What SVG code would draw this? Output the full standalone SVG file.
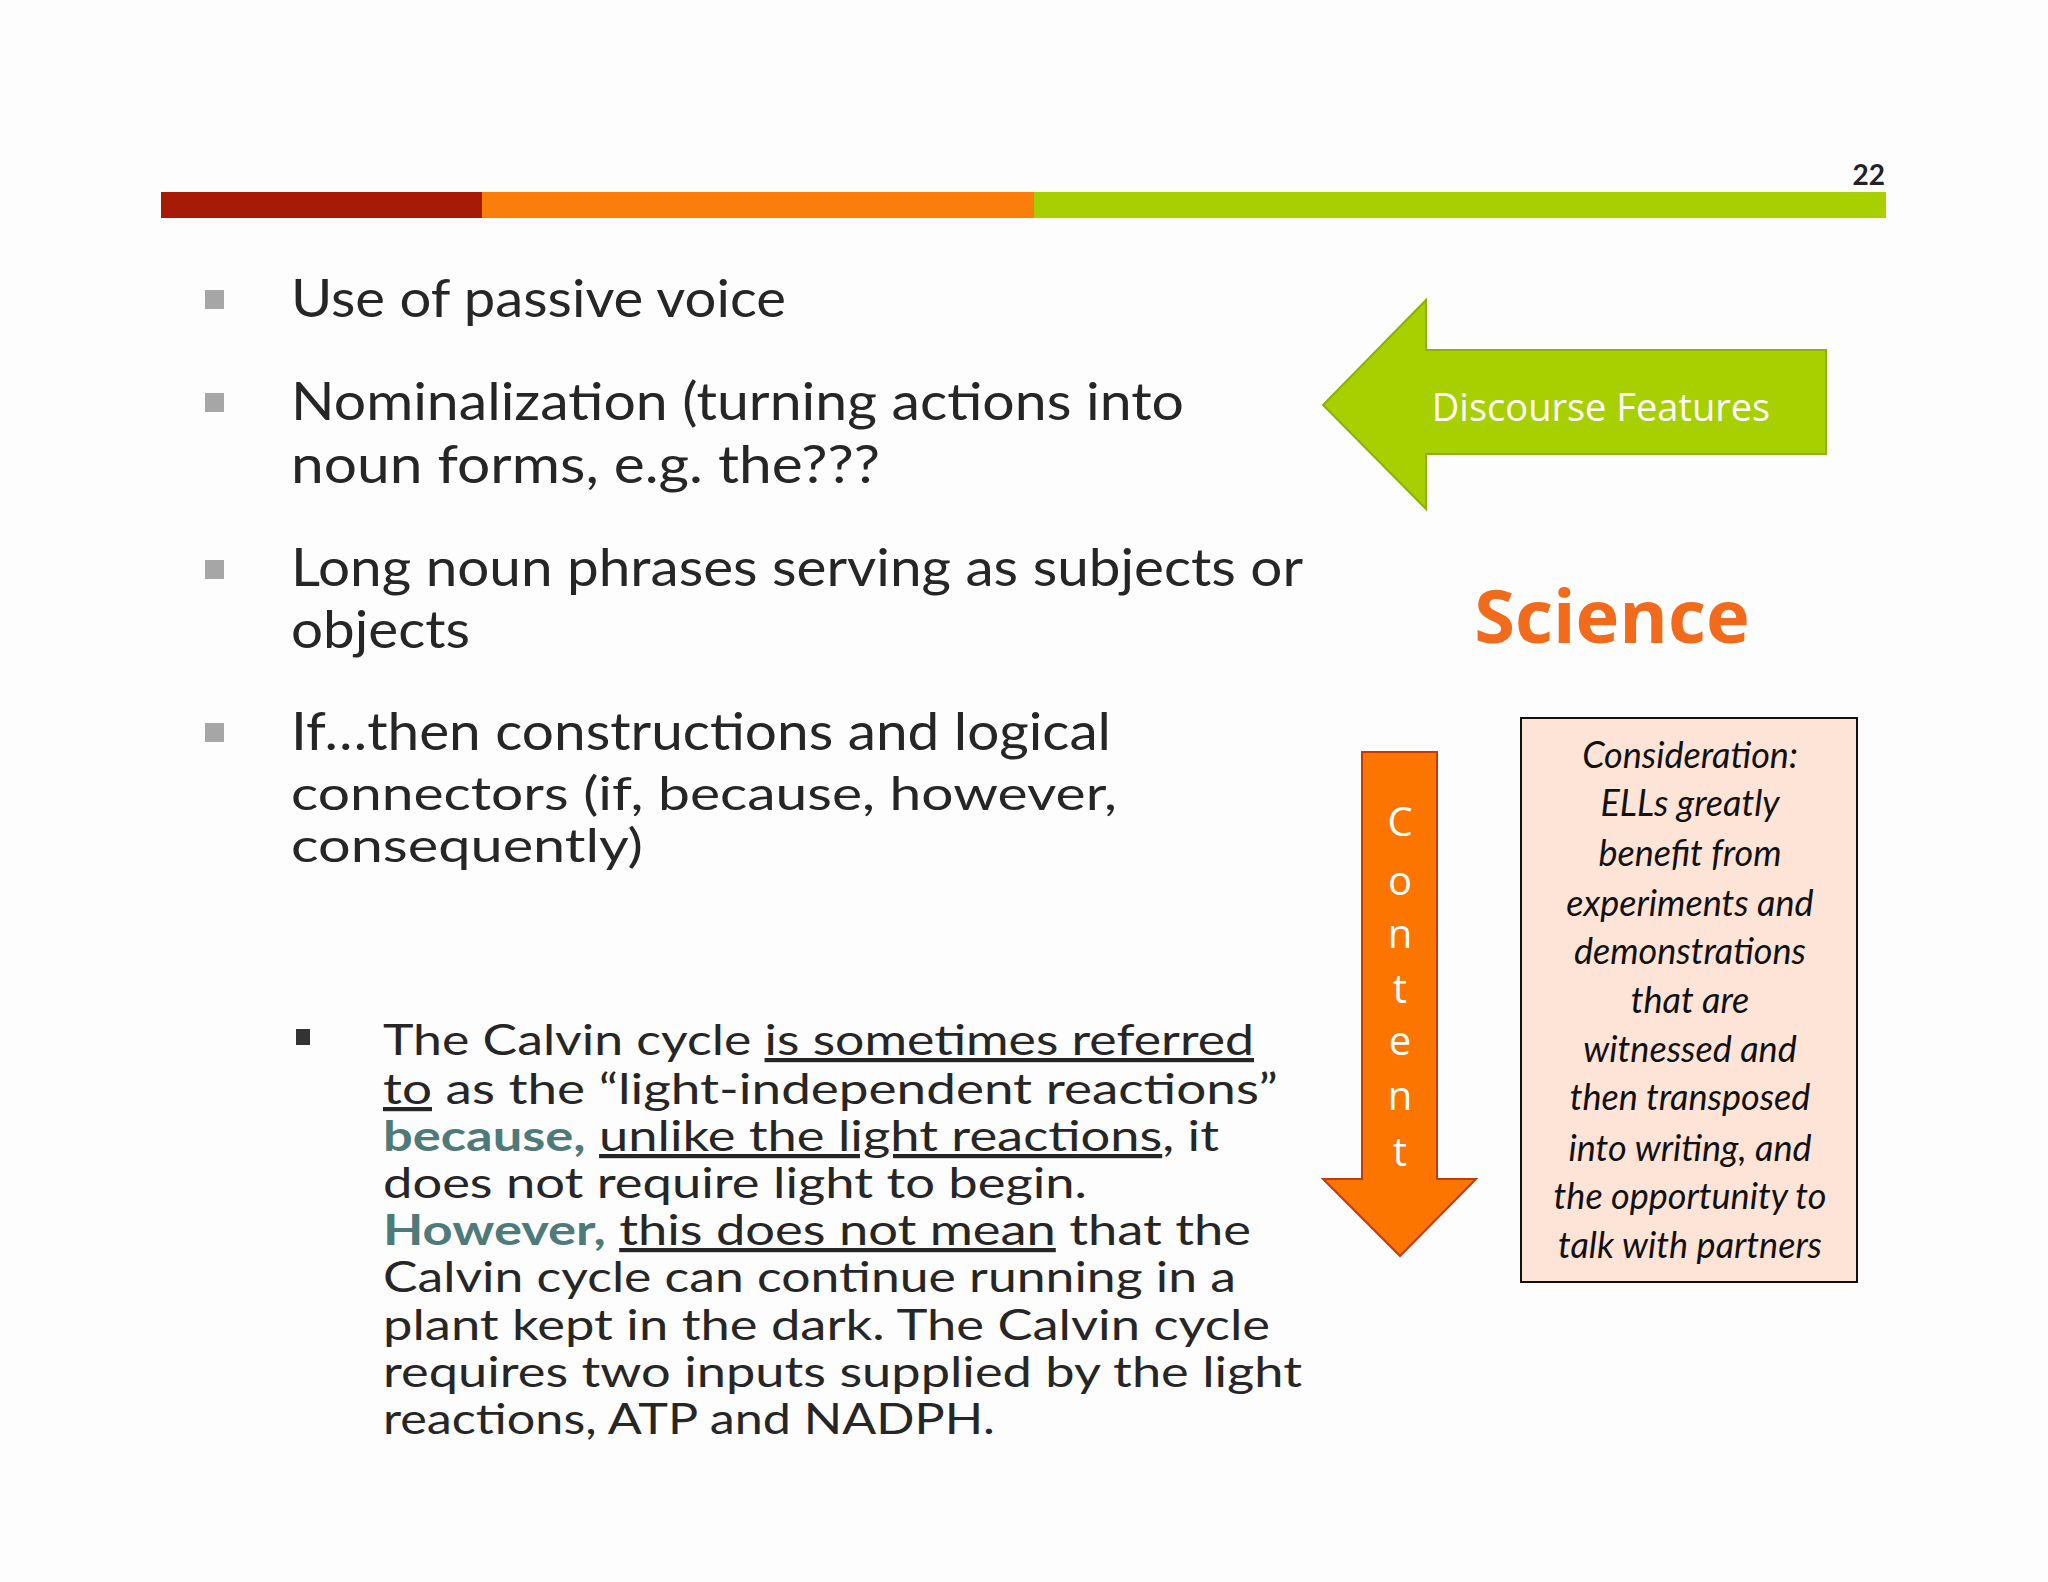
<svg xmlns="http://www.w3.org/2000/svg" width="2048" height="1582" viewBox="0 0 2048 1582">
<style>
.t{font-family:Lato,"Open Sans",sans-serif;fill:#262626}
.b{font-size:52px}
.b2{font-size:47px}
.c{font-size:42px}
.tl{fill:#4f7a7a;font-weight:bold}
.u{text-decoration:underline}
.bx{font-family:Lato,"Open Sans",sans-serif;font-style:italic;font-size:36px;fill:#111;text-anchor:middle}
.ct{font-family:"Open Sans",sans-serif;font-size:40px;fill:#fff;text-anchor:middle}
</style>
<rect width="2048" height="1582" fill="#fdfdfd"/>
<g id="header">
<rect x="161" y="192" width="321" height="26" fill="#a61a06"/>
<rect x="482" y="192" width="552" height="26" fill="#fb7d0b"/>
<rect x="1034" y="192" width="852" height="26" fill="#a8cf00"/>
<text x="1885" y="185" text-anchor="end" font-family="Lato,sans-serif" font-weight="bold" font-size="28" fill="#222">22</text>
</g>
<g id="bullets">
<rect x="205" y="290" width="19" height="19" fill="#a6a6a6"/>
<rect x="205" y="393" width="19" height="19" fill="#a6a6a6"/>
<rect x="205" y="560" width="19" height="19" fill="#a6a6a6"/>
<rect x="205" y="723" width="19" height="19" fill="#a6a6a6"/>
<text class="t b" x="291" y="317" textLength="495" lengthAdjust="spacingAndGlyphs">Use of passive voice</text>
<text class="t b" x="291" y="420" textLength="893" lengthAdjust="spacingAndGlyphs">Nominalization (turning actions into</text>
<text class="t b" x="291" y="483" textLength="589" lengthAdjust="spacingAndGlyphs">noun forms, e.g. the???</text>
<text class="t b" x="291" y="586" textLength="1012" lengthAdjust="spacingAndGlyphs">Long noun phrases serving as subjects or</text>
<text class="t b" x="291" y="648" textLength="179" lengthAdjust="spacingAndGlyphs">objects</text>
<text class="t b" x="291" y="750" textLength="820" lengthAdjust="spacingAndGlyphs">If…then constructions and logical</text>
<text class="t b2" x="291" y="810" textLength="826" lengthAdjust="spacingAndGlyphs">connectors (if, because, however,</text>
<text class="t b2" x="291" y="862" textLength="352" lengthAdjust="spacingAndGlyphs">consequently)</text>
</g>
<g id="example">
<rect x="296" y="1029" width="14" height="16" fill="#333"/>
<text class="t c" x="383" y="1055" textLength="871" lengthAdjust="spacingAndGlyphs">The Calvin cycle <tspan class="u">is sometimes referred</tspan></text>
<text class="t c" x="383" y="1104" textLength="895" lengthAdjust="spacingAndGlyphs"><tspan class="u">to</tspan> as the “light-independent reactions”</text>
<text class="t c" x="383" y="1151" textLength="836" lengthAdjust="spacingAndGlyphs"><tspan class="tl">because,</tspan> <tspan class="u">unlike the light reactions</tspan>, it</text>
<text class="t c" x="383" y="1198" textLength="704" lengthAdjust="spacingAndGlyphs">does not require light to begin.</text>
<text class="t c" x="383" y="1245" textLength="868" lengthAdjust="spacingAndGlyphs"><tspan class="tl">However,</tspan> <tspan class="u">this does not mean</tspan> that the</text>
<text class="t c" x="383" y="1292" textLength="853" lengthAdjust="spacingAndGlyphs">Calvin cycle can continue running in a</text>
<text class="t c" x="383" y="1340" textLength="887" lengthAdjust="spacingAndGlyphs">plant kept in the dark.  The Calvin cycle</text>
<text class="t c" x="383" y="1387" textLength="919" lengthAdjust="spacingAndGlyphs">requires two inputs supplied by the light</text>
<text class="t c" x="383" y="1434" textLength="612" lengthAdjust="spacingAndGlyphs">reactions, ATP and NADPH.</text>
</g>
<g id="discourse">
<polygon points="1323,405 1426,300 1426,350 1826,350 1826,454 1426,454 1426,509" fill="#a8cf00" stroke="#8fb000" stroke-width="2"/>
<text x="1601" y="421" text-anchor="middle" font-family="'Open Sans',sans-serif" font-size="38" fill="#fff">Discourse Features</text>
</g>
<g id="science">
<text x="1612" y="643" text-anchor="middle" font-family="'Open Sans',sans-serif" font-weight="bold" font-size="74" fill="#f26b1d">Science</text>
</g>
<g id="content">
<polygon points="1362,752 1437,752 1437,1179 1476,1179 1400,1256 1323,1179 1362,1179" fill="#fb7500" stroke="#c43a0a" stroke-width="2"/>
<text class="ct" x="1400" y="836">C</text>
<text class="ct" x="1400" y="895">o</text>
<text class="ct" x="1400" y="948">n</text>
<text class="ct" x="1400" y="1003">t</text>
<text class="ct" x="1400" y="1055">e</text>
<text class="ct" x="1400" y="1110">n</text>
<text class="ct" x="1400" y="1166">t</text>
</g>
<g id="consideration">
<rect x="1521" y="718" width="336" height="564" fill="#fde4d7" stroke="#111" stroke-width="2"/>
<text class="bx" x="1690" y="768">Consideration:</text>
<text class="bx" x="1690" y="816">ELLs greatly</text>
<text class="bx" x="1690" y="866">benefit from</text>
<text class="bx" x="1690" y="916">experiments and</text>
<text class="bx" x="1690" y="964">demonstrations</text>
<text class="bx" x="1690" y="1013">that are</text>
<text class="bx" x="1690" y="1062">witnessed and</text>
<text class="bx" x="1690" y="1110">then transposed</text>
<text class="bx" x="1690" y="1161">into writing, and</text>
<text class="bx" x="1690" y="1209">the opportunity to</text>
<text class="bx" x="1690" y="1258">talk with partners</text>
</g>
</svg>
